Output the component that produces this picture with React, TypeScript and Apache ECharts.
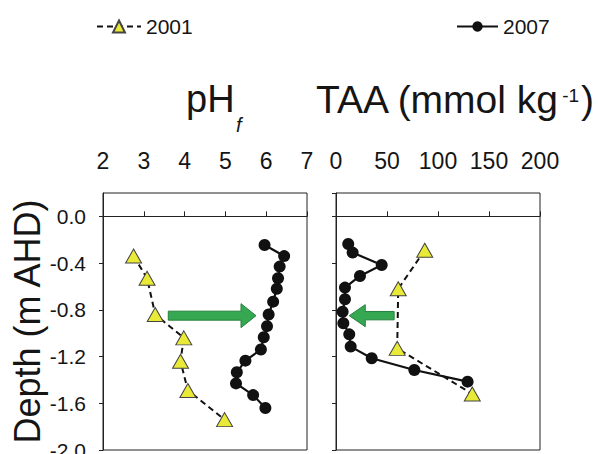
import React, { useEffect, useRef } from 'react';
import * as echarts from 'echarts';

// ---- data ----
const ph2001Depth = [-0.34, -0.53, -0.84, -1.04, -1.24, -1.49, -1.74];
const ph2001 = [2.75, 3.08, 3.28, 3.98, 3.9, 4.08, 4.98];
const ph2007Depth = [-0.245, -0.34, -0.43, -0.53, -0.62, -0.73, -0.84, -0.94, -1.035, -1.14, -1.235, -1.335, -1.43, -1.53, -1.64];
const ph2007 = [5.96, 6.44, 6.33, 6.29, 6.26, 6.17, 6.06, 6.02, 5.94, 5.87, 5.49, 5.28, 5.26, 5.68, 5.98];
const taa2001Depth = [-0.29, -0.62, -1.13, -1.52];
const taa2001 = [87, 61, 60, 133.6];
const taa2007Depth = [-0.236, -0.31, -0.416, -0.51, -0.61, -0.71, -0.816, -0.915, -1.01, -1.115, -1.215, -1.315, -1.415];
const taa2007 = [12, 16.3, 44.8, 23.5, 8.8, 8.8, 6.5, 7.2, 13, 14.4, 35, 76.8, 129];

// arrow annotations (data coordinates: [from x, to x, depth])
const phArrow = [3.6, 5.75, -0.85];
const taaArrow = [57, 13, -0.85];

const FONT = '"Liberation Sans", Arial, Helvetica, sans-serif';
const TXT = '#151515';
const YELLOW = '#e9e937';

const zip = (xs: number[], ys: number[]) => xs.map((x, i) => [x, ys[i]]);

export default function App() {
  const ref = useRef<HTMLDivElement>(null);
  useEffect(() => {
    if (!ref.current) return;
    const chart = echarts.init(ref.current, undefined, { renderer: 'svg' });

    const xAxisCommon = {
      type: 'value',
      position: 'top',
      axisLine: { show: true, lineStyle: { color: '#222', width: 1 } },
      axisTick: { show: true, inside: false, length: 5, lineStyle: { color: '#222' } },
      splitLine: { show: false },
      axisLabel: { fontSize: 23, color: TXT, margin: 21, fontFamily: FONT },
    };
    const yAxisCommon = {
      type: 'value',
      min: -2.0,
      max: 0.2,
      interval: 0.4,
      axisLine: { show: true, lineStyle: { color: '#222', width: 1 } },
      axisTick: { show: true, inside: false, length: 4, lineStyle: { color: '#222' } },
      splitLine: { show: false },
    };

    const s2007 = {
      type: 'line',
      name: '2007',
      symbol: 'circle',
      symbolSize: 12,
      itemStyle: { color: '#111' },
      lineStyle: { color: '#111', width: 2.2, type: 'solid' },
      z: 2,
    };
    const s2001 = {
      type: 'line',
      name: '2001',
      symbol: 'triangle',
      symbolSize: [16, 14],
      itemStyle: { color: YELLOW, borderColor: '#444', borderWidth: 1 },
      lineStyle: { color: '#111', width: 2, type: [6, 4] },
      z: 3,
    };

    chart.setOption({
      animation: false,
      backgroundColor: '#fff',
      textStyle: { fontFamily: FONT },
      legend: [
        {
          data: ['2001'],
          left: 96,
          top: 16,
          padding: 0,
          itemWidth: 44,
          itemHeight: 15,
          textStyle: { fontSize: 21, color: TXT, fontFamily: FONT },
          selectedMode: false,
        },
        {
          data: ['2007'],
          left: 456,
          top: 16,
          padding: 0,
          itemWidth: 41,
          itemHeight: 13,
          textStyle: { fontSize: 21, color: TXT, fontFamily: FONT },
          selectedMode: false,
        },
      ],
      grid: [
        { left: 103, top: 193, width: 204, height: 257, show: true, borderColor: '#222', borderWidth: 1, backgroundColor: 'transparent', outerBoundsMode: 'none', containLabel: false },
        { left: 336, top: 193, width: 204, height: 257, show: true, borderColor: '#222', borderWidth: 1, backgroundColor: 'transparent', outerBoundsMode: 'none', containLabel: false },
      ],
      xAxis: [
        { ...xAxisCommon, gridIndex: 0, min: 2, max: 7, interval: 1 },
        { ...xAxisCommon, gridIndex: 1, min: 0, max: 200, interval: 50 },
      ],
      yAxis: [
        {
          ...yAxisCommon,
          gridIndex: 0,
          name: 'Depth (m AHD)',
          nameLocation: 'middle',
          nameGap: 57,
          nameTextStyle: { fontSize: 36, color: TXT, fontFamily: FONT },
          axisLabel: {
            fontSize: 21,
            color: TXT,
            margin: 17,
            fontFamily: FONT,
            showMaxLabel: false,
            formatter: (v: number) => v.toFixed(1),
          },
        },
        { ...yAxisCommon, gridIndex: 1, axisLabel: { show: false } },
      ],
      series: [
        { ...s2007, xAxisIndex: 0, yAxisIndex: 0, data: zip(ph2007, ph2007Depth) },
        { ...s2001, xAxisIndex: 0, yAxisIndex: 0, data: zip(ph2001, ph2001Depth) },
        { ...s2007, xAxisIndex: 1, yAxisIndex: 1, data: zip(taa2007, taa2007Depth) },
        { ...s2001, xAxisIndex: 1, yAxisIndex: 1, data: zip(taa2001, taa2001Depth) },
      ],
    });

    const arrowPts = (g: number, a: number[], shaftHalf: number, headHalf: number, headLen: number) => {
      const p0 = chart.convertToPixel({ gridIndex: g }, [a[0], a[2]]) as number[];
      const p1 = chart.convertToPixel({ gridIndex: g }, [a[1], a[2]]) as number[];
      const d = Math.sign(p1[0] - p0[0]);
      const y = p0[1];
      const bx = p1[0] - d * headLen;
      return [
        [p0[0], y - shaftHalf],
        [bx, y - shaftHalf],
        [bx, y - headHalf],
        [p1[0], y],
        [bx, y + headHalf],
        [bx, y + shaftHalf],
        [p0[0], y + shaftHalf],
      ];
    };

    chart.setOption({
      graphic: [
        {
          type: 'polygon',
          shape: { points: arrowPts(0, phArrow, 4.5, 12, 15) },
          style: { fill: '#36a852', stroke: '#25803c', lineWidth: 1 },
          z: 10,
        },
        {
          type: 'polygon',
          shape: { points: arrowPts(1, taaArrow, 4.2, 11, 16) },
          style: { fill: '#36a852', stroke: '#25803c', lineWidth: 1 },
          z: 10,
        },
        {
          type: 'text',
          x: 186,
          y: 99,
          style: { text: 'pH', fontSize: 38, fill: TXT, fontFamily: FONT, verticalAlign: 'middle', align: 'left' },
        },
        {
          type: 'text',
          x: 236,
          y: 125,
          style: { text: 'f', fontSize: 20, fontStyle: 'italic', fill: TXT, fontFamily: FONT, verticalAlign: 'middle', align: 'left' },
        },
        {
          type: 'text',
          x: 316,
          y: 99,
          style: {
            text: '{a|TAA (mmol kg}{s|-1}{a|)}',
            fill: TXT,
            fontFamily: FONT,
            verticalAlign: 'middle',
            align: 'left',
            rich: {
              a: { fontSize: 39, fill: TXT, fontFamily: FONT },
              s: { fontSize: 19, fill: TXT, fontFamily: FONT, verticalAlign: 'middle', padding: [0, 2, 8, 2] },
            },
          },
        },
      ],
    });

    return () => chart.dispose();
  }, []);

  return (
    <div
      ref={ref}
      style={{ position: 'fixed', left: 0, top: 0, width: 598, height: 454, background: '#fff' }}
    />
  );
}
